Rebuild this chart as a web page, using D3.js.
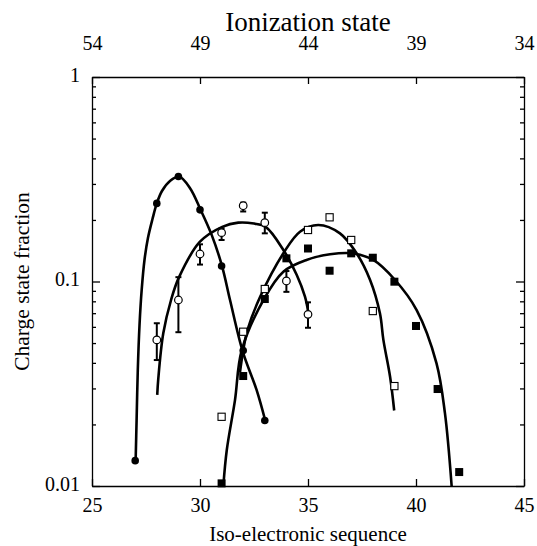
<!DOCTYPE html>
<html>
<head>
<meta charset="utf-8">
<script src="https://cdn.jsdelivr.net/npm/d3@7"></script>
<style>
  body { margin: 0; background: #fff; }
  svg { display: block; }
  text { font-family: "Liberation Serif", serif; fill: #000; }
  .axis path, .axis line { stroke: #000; stroke-width: 1.3; }
  .axis text { font-size: 20px; font-family: "Liberation Serif", serif; }
</style>
</head>
<body>
<svg width="537" height="546"></svg>
<script>
// filled circles
const isoA = [27, 28, 29, 30, 31, 32, 33];
const fracA = [0.0133, 0.241, 0.326, 0.224, 0.119, 0.046, 0.0209];

// open circles with error bars
const isoB = [28, 29, 30, 31, 32, 33, 34, 35];
const fracB = [0.0518, 0.0812, 0.1363, 0.1733, 0.2348, 0.194, 0.1006, 0.0691];
const lowB = [0.0413, 0.0565, 0.121, 0.1596, 0.22, 0.172, 0.089, 0.0594];
const highB = [0.0625, 0.105, 0.152, 0.182, 0.243, 0.217, 0.1125, 0.0791];

// open squares
const isoC = [31, 32, 33, 35, 36, 37, 38, 39];
const fracC = [0.0218, 0.0568, 0.0919, 0.1786, 0.206, 0.1596, 0.0717, 0.0308];

// filled squares
const isoD = [31, 32, 33, 34, 35, 36, 37, 38, 39, 40, 41, 42];
const fracD = [0.0103, 0.0345, 0.0821, 0.1298, 0.145, 0.1129, 0.1373, 0.1307, 0.0998, 0.0606, 0.0298, 0.0117];

// fitted curves
const fitA = [[27.02, 0.0133], [27.065, 0.021], [27.12, 0.0369], [27.2, 0.0613], [27.3, 0.0909],
  [27.43, 0.1274], [27.59, 0.1632], [27.8, 0.2021], [28.0, 0.241], [28.24, 0.277], [28.61, 0.31],
  [29.03, 0.326], [29.54, 0.286], [30.03, 0.224], [30.54, 0.169], [31.02, 0.119], [31.39, 0.0812],
  [31.98, 0.0454], [32.62, 0.0295], [33.02, 0.0209]];
const fitB = [[28.02, 0.0279], [28.07, 0.0336], [28.3, 0.0558], [28.66, 0.0812], [29.03, 0.105],
  [30.0, 0.1565], [31.03, 0.185], [31.77, 0.194], [32.5, 0.192], [33.04, 0.185], [33.86, 0.1426],
  [34.48, 0.1076], [34.86, 0.0843], [35.0, 0.072]];
const fitC = [[31.85, 0.036], [32.0, 0.046], [32.2, 0.058], [32.78, 0.084], [33.86, 0.1374],
  [34.63, 0.1752], [35.48, 0.189], [36.48, 0.172], [37.25, 0.1374], [37.87, 0.102], [38.33, 0.0699],
  [38.49, 0.0518], [38.8, 0.0342], [38.99, 0.0234]];
const fitD = [[31.08, 0.0100], [31.24, 0.015], [31.62, 0.0263], [31.93, 0.046], [32.98, 0.0827],
  [33.86, 0.1117], [34.93, 0.1274], [36.02, 0.1358], [37.02, 0.1374], [38.02, 0.1274], [39.03, 0.1017],
  [40.03, 0.0725], [40.95, 0.0398], [41.34, 0.0227], [41.65, 0.0100]];

const xTicks = [25, 30, 35, 40, 45];
const topTicks = [54, 49, 44, 39, 34];
const yMajor = [0.01, 0.1, 1];
const yMinor = [0.02, 0.03, 0.04, 0.05, 0.06, 0.07, 0.08, 0.09, 0.2, 0.3, 0.4, 0.5, 0.6, 0.7, 0.8, 0.9];

const svg = d3.select('svg');
const margin = { left: 92, right: 524, top: 77, bottom: 486 };

const x = d3.scaleLinear().domain([25, 45]).range([margin.left, margin.right]);
const xTop = d3.scaleLinear().domain([54, 34]).range([margin.left, margin.right]);
const y = d3.scaleLog().domain([0.01, 1]).range([margin.bottom, margin.top]);

// axes
svg.append('g').attr('class', 'axis')
  .attr('transform', `translate(0,${margin.bottom})`)
  .call(d3.axisBottom(x).tickValues(xTicks).tickFormat(d3.format('d'))
    .tickSizeInner(-7).tickSizeOuter(0).tickPadding(12));

svg.append('g').attr('class', 'axis')
  .attr('transform', `translate(0,${margin.top})`)
  .call(d3.axisTop(xTop).tickValues(topTicks).tickFormat(d3.format('d'))
    .tickSizeInner(-7).tickSizeOuter(0).tickPadding(27));

const yAxisL = svg.append('g').attr('class', 'axis')
  .attr('transform', `translate(${margin.left},0)`)
  .call(d3.axisLeft(y).tickValues(yMajor).tickFormat(d => d3.format('~g')(d))
    .tickSizeInner(-8).tickSizeOuter(0).tickPadding(12));
yAxisL.selectAll('text').attr('dy', '0.2em');
svg.append('g').attr('class', 'axis')
  .attr('transform', `translate(${margin.left},0)`)
  .call(d3.axisLeft(y).tickValues(yMinor).tickFormat('').tickSizeInner(-4).tickSizeOuter(0))
  .select('.domain').remove();

svg.append('g').attr('class', 'axis')
  .attr('transform', `translate(${margin.right},0)`)
  .call(d3.axisRight(y).tickValues(yMajor).tickFormat('').tickSizeInner(-8).tickSizeOuter(0));
svg.append('g').attr('class', 'axis')
  .attr('transform', `translate(${margin.right},0)`)
  .call(d3.axisRight(y).tickValues(yMinor).tickFormat('').tickSizeInner(-4).tickSizeOuter(0))
  .select('.domain').remove();

// titles
svg.append('text')
  .attr('x', (margin.left + margin.right) / 2).attr('y', 31)
  .attr('text-anchor', 'middle').attr('font-size', 27)
  .text('Ionization state');

svg.append('text')
  .attr('x', (margin.left + margin.right) / 2).attr('y', 541)
  .attr('text-anchor', 'middle').attr('font-size', 21)
  .text('Iso-electronic sequence');

svg.append('text')
  .attr('transform', `translate(29,${(margin.top + margin.bottom) / 2}) rotate(-90)`)
  .attr('text-anchor', 'middle').attr('font-size', 21.5)
  .text('Charge state fraction');

// fitted curves
svg.append('clipPath').attr('id', 'plot-clip')
  .append('rect').attr('x', margin.left).attr('y', margin.top)
  .attr('width', margin.right - margin.left).attr('height', margin.bottom - margin.top);

const line = d3.line()
  .x(d => x(d[0]))
  .y(d => y(d[1]))
  .curve(d3.curveCatmullRom.alpha(0.5));

svg.append('g').attr('clip-path', 'url(#plot-clip)')
  .selectAll('path').data([fitA, fitB, fitC, fitD])
  .enter().append('path')
    .attr('d', line)
    .attr('fill', 'none')
    .attr('stroke', '#000')
    .attr('stroke-width', 2.6);

// error bars
const errB = isoB.map((v, i) => ({ x: v, lo: lowB[i], hi: highB[i] }));
const eb = svg.append('g').attr('stroke', '#000').attr('stroke-width', 2);
eb.selectAll('.stem').data(errB).enter().append('line')
  .attr('x1', d => x(d.x)).attr('x2', d => x(d.x))
  .attr('y1', d => y(d.lo)).attr('y2', d => y(d.hi));
eb.selectAll('.cap-lo').data(errB).enter().append('line')
  .attr('x1', d => x(d.x) - 3).attr('x2', d => x(d.x) + 3)
  .attr('y1', d => y(d.lo)).attr('y2', d => y(d.lo));
eb.selectAll('.cap-hi').data(errB).enter().append('line')
  .attr('x1', d => x(d.x) - 3).attr('x2', d => x(d.x) + 3)
  .attr('y1', d => y(d.hi)).attr('y2', d => y(d.hi));

// markers
svg.append('g').selectAll('circle')
  .data(isoB.map((v, i) => [v, fracB[i]]))
  .enter().append('circle')
    .attr('cx', d => x(d[0])).attr('cy', d => y(d[1])).attr('r', 3.8)
    .attr('fill', '#fff').attr('stroke', '#000').attr('stroke-width', 1.2);

svg.append('g').selectAll('circle')
  .data(isoA.map((v, i) => [v, fracA[i]]))
  .enter().append('circle')
    .attr('cx', d => x(d[0])).attr('cy', d => y(d[1])).attr('r', 3.8)
    .attr('fill', '#000');

svg.append('g').selectAll('rect')
  .data(isoC.map((v, i) => [v, fracC[i]]))
  .enter().append('rect')
    .attr('x', d => x(d[0]) - 3.6).attr('y', d => y(d[1]) - 3.6)
    .attr('width', 7.2).attr('height', 7.2)
    .attr('fill', '#fff').attr('stroke', '#000').attr('stroke-width', 1.1);

svg.append('g').selectAll('rect')
  .data(isoD.map((v, i) => [v, fracD[i]]))
  .enter().append('rect')
    .attr('x', d => x(d[0]) - 4).attr('y', d => y(d[1]) - 4)
    .attr('width', 8).attr('height', 8)
    .attr('fill', '#000');
</script>
</body>
</html>
